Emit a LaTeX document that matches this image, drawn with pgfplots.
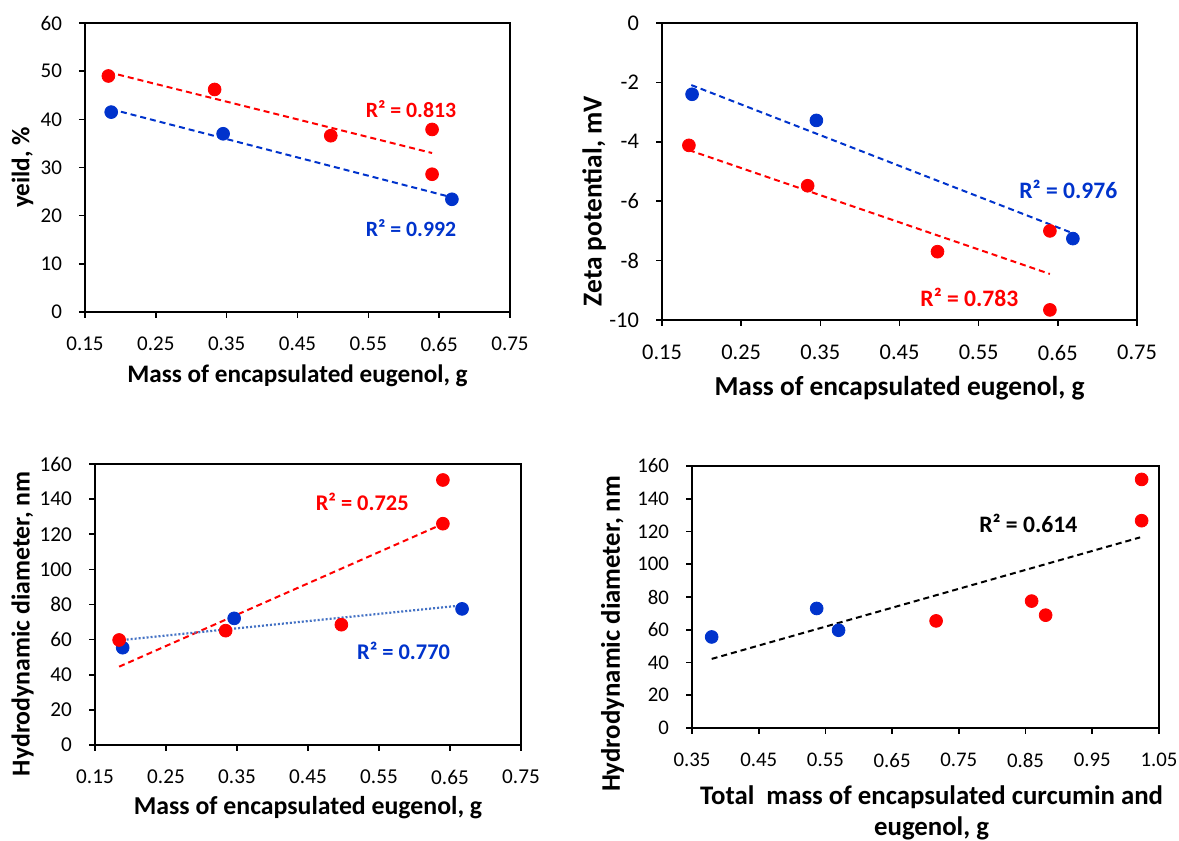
\documentclass[border=0pt]{standalone}
\usepackage{pgfplots}
\pgfplotsset{compat=1.18}
\usepackage{fontspec}
\setmainfont{Carlito}
\definecolor{myred}{RGB}{255,0,0}
\definecolor{myblue}{RGB}{0,51,204}
\definecolor{dotblue}{RGB}{68,114,196}
\newcommand{\fs}[1]{\fontsize{#1}{#1}\selectfont}
\pgfplotsset{
  panel/.style={
    scale only axis, anchor=south west, clip=false,
    axis line style={black, line width=0.8pt},
    tick align=outside, major tick length=3pt,
    every tick/.style={black, line width=0.8pt},
    xtick pos=left, ytick pos=left,
    /pgf/number format/assume math mode=true,
    xticklabel style={yshift=-6pt},
    yticklabel style={xshift=-5pt},
  },
  rdot/.style={only marks, mark=*, mark size=3.2pt, color=myred},
  bdot/.style={only marks, mark=*, mark size=3.2pt, color=myblue},
  tline/.style={no marks, line width=1pt, dash pattern=on 3pt off 2pt},
}
\begin{document}
\begin{tikzpicture}
\path[use as bounding box] (0,0) rectangle (589.5pt,420.5pt);
% Panel 1
\begin{axis}[panel, at={(42.5pt,264.5pt)}, width=212.5pt, height=144.5pt,
  xmin=0.15, xmax=0.75, ymin=0, ymax=60,
  xtick={0.15,0.25,0.35,0.45,0.55,0.65,0.75},
  xticklabels={0.15,0.25,0.35,0.45,0.55,0.65,0.75},
  ytick={0,10,20,30,40,50,60},
  ticklabel style={font=\fs{10.5}},
  xlabel={Mass of encapsulated eugenol, g},
  ylabel={yeild, \%},
  xlabel style={at={(axis description cs:0.5,-0.221)}, anchor=center, font=\bfseries\fs{12.6}},
  ylabel style={at={(axis description cs:-0.147,0.5)}, anchor=center, font=\bfseries\fs{12.6}},
]
\addplot[bdot] coordinates {(0.187,41.5) (0.345,37.0) (0.668,23.4)};
\addplot[rdot] coordinates {(0.183,49.0) (0.333,46.2) (0.497,36.6) (0.640,37.9) (0.640,28.6)};
\addplot[tline, myred] coordinates {(0.183,49.8) (0.640,33.0)};
\addplot[tline, myblue] coordinates {(0.187,42.1) (0.668,23.8)};
\node[anchor=east, text=myred, font=\bfseries\fs{10.9}] at (axis cs:0.684,42.1) {R² = 0.813};
\node[anchor=east, text=myblue, font=\bfseries\fs{10.9}] at (axis cs:0.684,17.4) {R² = 0.992};
\end{axis}
% Panel 2
\begin{axis}[panel, at={(331pt,260.5pt)}, width=237.5pt, height=148.5pt,
  xmin=0.15, xmax=0.75, ymin=-10, ymax=0,
  xtick={0.15,0.25,0.35,0.45,0.55,0.65,0.75},
  xticklabels={0.15,0.25,0.35,0.45,0.55,0.65,0.75},
  ytick={-10,-8,-6,-4,-2,0},
  yticklabels={-10,-8,-6,-4,-2,0},
  ticklabel style={font=\fs{11.2}},
  xlabel={Mass of encapsulated eugenol, g},
  ylabel={Zeta potential, mV},
  xlabel style={at={(axis description cs:0.5,-0.229)}, anchor=center, font=\bfseries\fs{13.7}},
  ylabel style={at={(axis description cs:-0.143,0.40)}, anchor=center, font=\bfseries\fs{13.7}},
]
\addplot[bdot] coordinates {(0.188,-2.40) (0.345,-3.28) (0.669,-7.26)};
\addplot[rdot] coordinates {(0.184,-4.12) (0.334,-5.48) (0.498,-7.70) (0.640,-7.00) (0.640,-9.66)};
\addplot[tline, myblue] coordinates {(0.187,-2.09) (0.669,-7.08)};
\addplot[tline, myred] coordinates {(0.184,-4.28) (0.640,-8.45)};
\node[anchor=east, text=myblue, font=\bfseries\fs{11.8}] at (axis cs:0.734,-5.60) {R² = 0.976};
\node[anchor=east, text=myred, font=\bfseries\fs{11.8}] at (axis cs:0.609,-9.25) {R² = 0.783};
\end{axis}
% Panel 3
\begin{axis}[panel, at={(47.5pt,48pt)}, width=213pt, height=140.5pt,
  xmin=0.15, xmax=0.75, ymin=0, ymax=160,
  xtick={0.15,0.25,0.35,0.45,0.55,0.65,0.75},
  xticklabels={0.15,0.25,0.35,0.45,0.55,0.65,0.75},
  ytick={0,20,40,60,80,100,120,140,160},
  ticklabel style={font=\fs{10.6}},
  xlabel={Mass of encapsulated eugenol, g},
  ylabel={Hydrodynamic diameter, nm},
  xlabel style={at={(axis description cs:0.5,-0.224)}, anchor=center, font=\bfseries\fs{12.9}},
  ylabel style={at={(axis description cs:-0.170,0.431)}, anchor=center, font=\bfseries\fs{12.9}},
]
\addplot[bdot] coordinates {(0.189,55.4) (0.346,72.1) (0.667,77.5)};
\addplot[rdot] coordinates {(0.184,59.8) (0.334,65.1) (0.497,68.5) (0.640,126.0) (0.640,150.9)};
\addplot[tline, myred] coordinates {(0.184,44.6) (0.640,125.9)};
\addplot[no marks, dotblue, line width=1.1pt, dash pattern=on 1pt off 1pt] coordinates {(0.189,59.8) (0.667,79.5)};
\node[anchor=east, text=myred, font=\bfseries\fs{11.2}] at (axis cs:0.6017,138.7) {R² = 0.725};
\node[anchor=east, text=myblue, font=\bfseries\fs{11.2}] at (axis cs:0.660,53.8) {R² = 0.770};
\end{axis}
% Panel 4
\begin{axis}[panel, at={(346pt,56.5pt)}, width=233.5pt, height=131pt,
  xmin=0.35, xmax=1.05, ymin=0, ymax=160,
  xtick={0.35,0.45,0.55,0.65,0.75,0.85,0.95,1.05},
  xticklabels={0.35,0.45,0.55,0.65,0.75,0.85,0.95,1.05},
  ytick={0,20,40,60,80,100,120,140,160},
  ticklabel style={font=\fs{10.4}},
  xlabel={Total\ \ mass of encapsulated curcumin and\\eugenol, g},
  ylabel={Hydrodynamic diameter, nm},
  xlabel style={at={(axis description cs:0.513,-0.3225)}, anchor=center, align=center, font=\bfseries\fontsize{13.4}{15.5}\selectfont},
  ylabel style={at={(axis description cs:-0.170,0.359)}, anchor=center, font=\bfseries\fs{13.4}},
]
\addplot[bdot] coordinates {(0.3795,55.6) (0.5369,73.0) (0.5697,59.7)};
\addplot[rdot] coordinates {(0.7159,65.4) (0.8591,77.5) (0.8801,68.9) (1.024,151.8) (1.024,126.6)};
\addplot[tline, black] coordinates {(0.3795,42.2) (1.0217,116.4)};
\node[anchor=east, text=black, font=\bfseries\fs{11.8}] at (axis cs:0.938,124.9) {R² = 0.614};
\end{axis}
\end{tikzpicture}
\end{document}
